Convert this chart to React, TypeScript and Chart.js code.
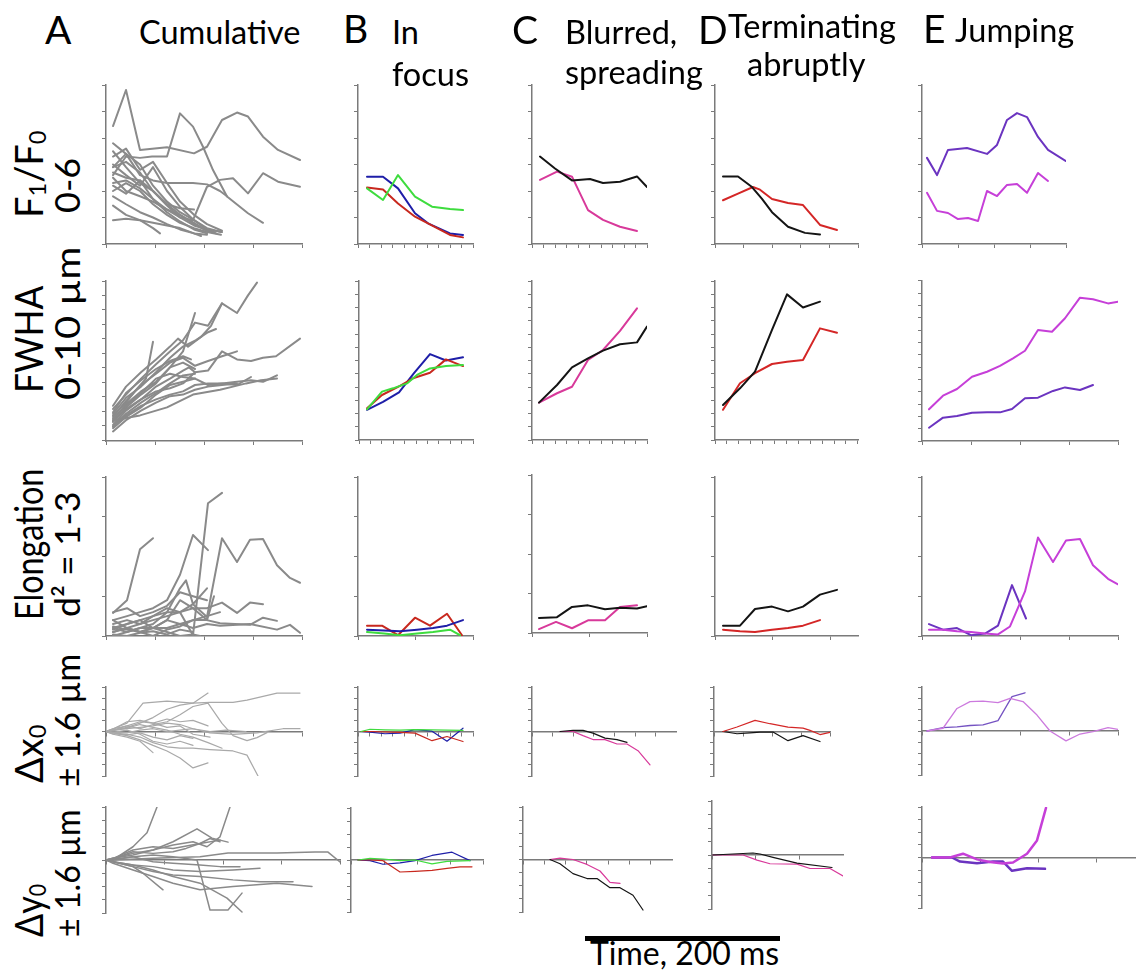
import React, { useEffect, useRef } from 'react';
import { Chart, registerables } from 'chart.js';
Chart.register(...registerables);

type Pt = [number, number]; // [time offset (ms), value]

// ---------- Column A : cumulative traces (gray) ----------
const A_F1F0: Pt[][] = [
  [[7,4.45],[20,5.81],[34,3.55],[61,3.65],[88,3.42],[101,3.67],[116,4.68],[131,4.96],[142,4.81],[157,4.05],[172,3.55],[194,3.17]],
  [[7,2.6],[20,3.3],[34,3.25],[46,3.3],[61,3.3],[74,4.93],[87,4.43],[97,3.67],[107,2.79],[121,1.79],[142,1.16],[157,0.8]],
  [[7,2.3],[20,2.4],[34,2.1],[47,1.7],[61,1.3],[74,1.0],[87,0.9],[101,2.16],[114,2.42],[127,2.48],[142,1.91],[157,2.67],[172,2.35],[194,2.16]],
  [[7,2.9],[20,3.4],[34,2.6],[47,2.4],[61,2.3],[74,2.3],[87,2.3],[101,2.25],[114,2.0],[121,1.8]],
  [[7,3.8],[20,3.4],[34,3.0],[47,2.2],[61,1.6],[74,1.2],[88,0.9],[101,0.6],[115,0.45]],
  [[7,3.3],[20,3.6],[34,2.8],[47,3.1],[61,2.3],[74,1.6],[88,1.1],[101,0.75],[116,0.5]],
  [[7,3.0],[20,2.6],[34,2.2],[47,2.9],[61,2.0],[74,1.4],[88,0.9],[101,0.55],[110,0.4]],
  [[7,2.7],[20,2.5],[34,2.4],[47,2.0],[61,1.5],[74,1.1],[88,0.75],[101,0.5]],
  [[7,2.5],[20,2.0],[34,1.8],[47,1.6],[61,1.3],[74,1.1],[88,0.8],[101,0.5],[108,0.45]],
  [[7,2.2],[20,1.9],[34,2.4],[47,1.7],[61,1.2],[74,0.85],[88,0.55],[101,0.4]],
  [[7,1.8],[20,1.5],[34,1.2],[47,1.0],[61,0.75],[74,0.55],[88,0.4],[95,0.3]],
  [[7,1.45],[20,1.1],[34,0.9],[47,0.6],[54,0.4]],
  [[7,0.9],[20,0.95],[34,0.9],[47,0.8],[61,0.7],[74,0.6],[88,0.4],[101,0.35]],
  [[7,3.5],[20,2.9],[34,2.3],[47,2.0],[61,1.5],[74,1.35],[88,1.3]],
  [[7,2.9],[20,3.1],[34,2.7],[47,2.0],[61,1.45],[74,1.0],[88,0.7],[101,0.55],[116,0.45]],
  [[7,2.0],[20,2.3],[34,2.0],[47,1.5],[61,1.1],[74,0.8],[88,0.6],[101,0.45],[115,0.35]],
];

const A_FWHA: Pt[][] = [
  [[7,2.0],[20,2.9],[35,3.9],[50,4.8],[64,5.6],[77,6.3],[89,7.4],[102,7.2],[116,8.6],[131,8.0],[142,9.1],[151,9.9]],
  [[7,1.2],[20,2.0],[35,2.6],[50,3.1],[64,3.3],[77,3.6],[89,4.3],[102,4.4],[116,5.6],[131,5.1],[145,5.0],[157,5.2],[170,5.3],[194,6.4]],
  [[7,0.9],[20,1.6],[35,2.2],[50,2.6],[64,2.9],[77,3.1],[89,3.5],[102,3.6],[116,3.6],[131,3.7],[145,3.8],[157,3.7],[171,4.1]],
  [[7,1.6],[20,2.4],[30,3.2],[40,3.9],[47,6.2]],
  [[7,1.3],[20,2.3],[35,3.1],[50,3.7],[64,4.6],[77,5.6],[89,8.0]],
  [[7,1.7],[20,2.7],[35,3.4],[50,4.3],[64,5.2],[77,5.9],[90,6.3],[102,6.8],[110,7.0]],
  [[7,1.0],[20,1.9],[35,2.6],[50,3.4],[64,3.9],[77,4.4],[83,4.6],[89,4.3]],
  [[7,0.9],[20,1.7],[35,2.4],[50,3.0],[64,3.6],[77,4.1],[89,4.2]],
  [[7,1.2],[20,2.1],[35,2.9],[50,3.6],[64,4.6],[77,4.9],[89,4.5]],
  [[7,0.6],[20,1.3],[35,1.9],[50,2.4],[64,2.8],[77,2.9],[89,3.2],[102,3.4],[116,3.5],[131,3.6]],
  [[7,1.3],[34,1.6],[61,2.1],[87,2.9],[114,3.2],[127,3.4],[140,3.6],[155,3.8],[171,3.9]],
  [[7,1.8],[20,3.0],[35,3.8],[50,4.5],[64,5.0],[77,5.3],[85,5.1]],
  [[7,1.4],[20,2.2],[35,3.0],[50,3.9],[64,4.2],[77,4.0],[89,3.9]],
  [[7,2.2],[20,3.4],[35,4.3],[50,5.1],[64,5.9],[72,6.4],[82,5.9],[95,6.5],[105,7.2],[116,8.6]],
  [[7,0.8],[20,1.5],[35,2.1],[50,2.9],[64,3.5],[77,3.7],[89,3.9],[102,3.5],[116,3.6],[131,3.5],[145,4.0]],
  [[7,1.5],[20,2.5],[35,3.5],[50,4.2],[64,4.9],[77,5.2],[89,4.7],[102,5.0],[116,5.3],[131,5.6]],
];

const A_ELONG: Pt[][] = [
  [[7,1.29],[21,1.45],[34,2.09],[47,2.23]],
  [[7,1.2],[21,1.25],[34,1.3],[47,1.35],[61,1.45],[74,1.77],[87,2.27],[102,2.08]],
  [[7,1.1],[21,1.15],[34,1.2],[47,1.25],[61,1.3],[74,1.3],[87,1.01],[102,2.67],[116,2.8]],
  [[7,1.05],[21,1.1],[34,1.15],[47,1.2],[61,1.25],[74,1.3],[87,1.4],[101,1.24],[116,2.23],[131,1.93],[144,2.21],[157,2.22],[171,1.89],[184,1.73],[194,1.67]],
  [[7,1.15],[21,1.2],[34,1.15],[47,1.25],[61,1.35],[74,1.3],[87,1.35],[101,1.35],[116,1.42],[131,1.29],[144,1.42],[157,1.4]],
  [[7,1.1],[21,1.05],[34,1.1],[47,1.1],[61,1.2],[74,1.15],[87,1.2],[101,1.2],[114,1.16],[144,1.14],[157,1.23],[171,1.19]],
  [[7,1.05],[21,1.1],[34,1.05],[47,1.1],[61,1.1],[74,1.15],[87,1.1],[101,1.15],[114,1.13],[144,1.15],[171,1.08],[184,1.14],[194,1.04]],
  [[7,1.0],[21,1.05],[34,1.1],[47,1.15],[61,1.3],[74,1.6],[80,1.7],[87,1.4],[101,1.6]],
  [[7,1.12],[21,1.08],[34,1.05],[47,1.1],[61,1.2],[74,1.45],[87,1.35],[101,1.2],[108,1.5]],
  [[7,1.08],[21,1.15],[34,1.2],[47,1.1],[61,1.05],[74,1.0],[87,1.02],[94,1.0]],
  [[7,1.2],[21,1.1],[34,1.05],[47,1.0],[61,1.08],[74,1.12],[87,1.2],[101,1.25],[114,1.3]],
  [[7,1.02],[21,1.0],[34,1.04],[47,1.06],[61,1.02],[74,1.08],[87,1.05]],
  [[7,1.3],[21,1.35],[34,1.25],[47,1.3],[61,1.38],[74,1.55],[87,1.5],[101,1.45]],
];

const A_DX: Pt[][] = [
  [[0,0],[7,0.1],[21,0.3],[37,1.02],[61,1.09],[87,1.02],[104,1.05],[127,1.05],[141,1.13],[171,1.38],[194,1.38]],
  [[0,0],[7,0.05],[21,0.15],[34,0.3],[47,0.5],[61,0.8],[74,0.95],[87,1.02],[102,1.38]],
  [[0,0],[7,0.05],[21,0.2],[34,0.1],[47,0.25],[61,0.35],[74,0.6],[87,0.9],[102,1.02],[116,0.29],[127,-0.15],[141,-0.33],[151,-0.22],[161,-0.04]],
  [[0,0],[7,-0.1],[21,-0.2],[34,-0.35],[47,-0.76]],
  [[0,0],[7,-0.05],[21,-0.15],[34,-0.3],[47,-0.5],[61,-0.7],[74,-0.95],[87,-1.31],[102,-1.13]],
  [[0,0],[7,-0.05],[21,-0.1],[34,-0.2],[47,-0.4],[61,-0.55],[74,-0.6],[87,-0.6],[104,-0.65],[127,-0.7],[141,-0.85],[152,-1.6]],
  [[0,0],[7,0.05],[21,0.1],[34,0.15],[47,0.2],[61,0.3],[74,0.25],[87,0.1],[104,-0.05],[127,-0.1],[151,-0.05],[177,0.1],[194,0.1]],
  [[0,0],[7,0.08],[21,0.35],[34,0.4],[47,0.3],[61,0.45],[74,0.35],[87,0.4],[102,0.2]],
  [[0,0],[7,-0.08],[21,-0.12],[34,-0.05],[47,-0.2],[61,-0.3],[74,-0.15],[87,-0.25]],
  [[0,0],[7,0.03],[21,0.12],[34,0.25],[47,0.15],[61,0.05],[74,-0.1],[87,-0.2],[102,-0.4],[116,-0.6]],
  [[0,0],[7,-0.02],[21,-0.05],[34,0.05],[47,0.1],[61,0.0],[74,0.05],[87,0.1],[104,0.0],[120,0.05],[140,0.0]],
  [[0,0],[7,0.1],[21,0.2],[34,0.35],[47,0.3],[61,0.15],[74,0.2],[87,-0.1],[104,-0.2]],
  [[0,0],[7,-0.03],[21,0.05],[34,-0.1],[47,-0.35],[61,-0.45],[74,-0.35],[87,-0.5]],
];

const A_DY: Pt[][] = [
  [[0,0],[7,0.0],[27,0.4],[41,0.82],[51,1.6]],
  [[0,0],[7,0.05],[27,0.2],[47,0.3],[67,0.45],[87,0.55],[101,0.4],[114,0.7],[124,1.6]],
  [[0,0],[7,0.05],[27,0.15],[47,0.3],[67,0.55],[91,0.94],[106,0.66],[122,0.54]],
  [[0,0],[7,0.0],[47,0.05],[94,0.1],[122,0.21],[171,0.21],[209,0.24],[222,0.24],[234,-0.06]],
  [[0,0],[7,-0.05],[27,-0.15],[47,-0.2],[67,-0.3],[94,-0.35],[127,-0.3],[154,-0.25]],
  [[0,0],[7,-0.05],[27,-0.2],[47,-0.35],[67,-0.45],[94,-0.5],[127,-0.6],[154,-0.66],[177,-0.66],[187,-0.66]],
  [[0,0],[7,-0.1],[27,-0.3],[47,-0.5],[67,-0.7],[94,-0.9],[127,-0.8],[171,-0.7],[206,-0.8]],
  [[0,0],[7,0.0],[27,0.1],[47,0.15],[67,0.1],[91,0.0],[104,-1.51],[122,-1.51],[136,-1.0]],
  [[0,0],[7,-0.05],[27,-0.15],[47,-0.3],[67,-0.5],[94,-0.7],[121,-1.15],[136,-1.57]],
  [[0,0],[7,-0.05],[27,-0.2],[37,-0.4],[57,-0.9]],
  [[0,0],[7,0.05],[27,0.3],[47,0.4],[67,0.35],[94,0.5],[114,0.6]],
  [[0,0],[7,0.02],[27,0.1],[47,-0.05],[67,-0.1],[94,-0.15],[114,-0.2],[134,-0.2]],
  [[0,0],[7,0.03],[27,0.25],[47,0.2],[67,0.25],[80,0.35],[94,0.5],[104,0.65],[114,0.55]],
];

// ---------- Column B : in focus ----------
const B_F1F0_blue: Pt[] = [[9,2.54],[25,2.54],[40,2.1],[57,1.16],[70,0.78],[92,0.4],[105,0.34]];
const B_F1F0_red: Pt[] = [[9,2.13],[25,2.06],[40,1.53],[57,1.03],[70,0.78],[92,0.34],[105,0.25]];
const B_F1F0_green: Pt[] = [[9,2.1],[25,1.66],[40,2.6],[57,1.79],[74,1.41],[92,1.32],[105,1.28]];
const B_FWHA_blue: Pt[] = [[8,1.9],[24,2.4],[40,3.0],[55,4.2],[71,5.4],[87,5.0],[104,5.2]];
const B_FWHA_green: Pt[] = [[8,1.93],[23,3.04],[34,3.25],[48,3.56],[58,4.09],[71,4.5],[87,4.65],[104,4.72]];
const B_FWHA_red: Pt[] = [[8,2.0],[23,2.83],[41,3.4],[54,3.88],[71,4.23],[87,5.07],[104,4.65]];
const B_ELONG_red: Pt[] = [[9,1.13],[24,1.13],[40,1.01],[57,1.23],[72,1.13],[89,1.28],[104,1.01]];
const B_ELONG_blue: Pt[] = [[9,1.08],[26,1.07],[42,1.06],[59,1.08],[75,1.1],[89,1.13],[105,1.2]];
const B_ELONG_green: Pt[] = [[9,1.05],[26,1.03],[42,1.01],[59,1.03],[75,1.05],[92,1.08],[102,1.01]];
const B_DX_red: Pt[] = [[3,0],[12,0],[42,-0.03],[57,-0.06],[74,-0.33],[89,-0.18],[105,-0.36]];
const B_DX_blue: Pt[] = [[3,0],[12,-0.02],[27,-0.08],[42,-0.06],[57,0.07],[74,0.01],[89,-0.35],[105,0.12]];
const B_DX_green: Pt[] = [[3,0],[12,0.08],[27,0.06],[42,0.05],[57,0.07],[74,0.06],[89,0.05],[105,0.04]];
const B_DY_red: Pt[] = [[7,0],[19,0],[32,-0.02],[49,-0.37],[64,-0.35],[81,-0.32],[96,-0.26],[109,-0.21],[121,-0.21]];
const B_DY_blue: Pt[] = [[7,0],[19,-0.02],[32,-0.13],[49,-0.09],[64,-0.02],[81,0.14],[101,0.24],[119,-0.02]];
const B_DY_green: Pt[] = [[7,0],[19,0.05],[32,0.03],[49,-0.02],[64,0],[81,-0.12],[96,-0.04],[119,-0.02]];

// ---------- Column C : blurred, spreading ----------
const C_F1F0_black: Pt[] = [[8,3.3],[23,2.85],[40,2.4],[58,2.45],[71,2.3],[88,2.35],[105,2.55],[115,2.15]];
const C_F1F0_pink: Pt[] = [[8,2.42],[25,2.73],[40,2.54],[56,1.28],[71,0.91],[88,0.65],[105,0.49]];
const C_FWHA_black: Pt[] = [[7,2.35],[25,3.46],[40,4.57],[56,5.14],[71,5.62],[88,6.02],[105,6.14],[115,7.13]];
const C_FWHA_pink: Pt[] = [[7,2.35],[25,2.94],[40,3.35],[56,5.03],[71,5.66],[88,6.86],[105,8.28]];
const C_ELONG_black: Pt[] = [[7,1.19],[25,1.2],[40,1.33],[56,1.35],[73,1.3],[88,1.32],[105,1.31],[115,1.34]];
const C_ELONG_pink: Pt[] = [[7,1.05],[24,1.14],[40,1.06],[56,1.16],[73,1.16],[88,1.33],[105,1.35]];
const C_DX_black: Pt[] = [[28,0],[41,0.04],[51,0.04],[61,-0.06],[73,-0.24],[85,-0.29],[95,-0.39]];
const C_DX_pink: Pt[] = [[28,0],[41,0],[51,-0.15],[61,-0.29],[73,-0.29],[85,-0.45],[95,-0.45],[106,-0.69],[118,-1.2]];
const C_DY_black: Pt[] = [[27,0],[37,-0.13],[50,-0.43],[64,-0.58],[74,-0.58],[87,-0.86],[97,-0.86],[110,-1.09],[120,-1.54]];
const C_DY_pink: Pt[] = [[27,0],[37,0.04],[50,0],[64,-0.15],[77,-0.35],[87,-0.7],[97,-0.73]];

// ---------- Column D : terminating abruptly ----------
const D_F1F0_black: Pt[] = [[8,2.55],[23,2.55],[37,2.15],[47,1.7],[57,1.2],[73,0.65],[90,0.42],[105,0.36]];
const D_F1F0_red: Pt[] = [[8,1.65],[23,1.9],[38,2.15],[45,2.05],[57,1.7],[73,1.55],[88,1.47],[105,0.72],[122,0.53]];
const D_FWHA_black: Pt[] = [[8,2.2],[25,3.25],[40,4.3],[57,6.92],[72,9.16],[88,8.33],[105,8.7]];
const D_FWHA_red: Pt[] = [[8,1.9],[25,3.57],[40,4.2],[57,4.78],[72,4.92],[88,5.03],[105,7.02],[122,6.75]];
const D_ELONG_black: Pt[] = [[8,1.13],[25,1.13],[40,1.34],[57,1.37],[73,1.31],[88,1.37],[105,1.52],[122,1.58]];
const D_ELONG_red: Pt[] = [[8,1.08],[25,1.06],[40,1.05],[57,1.08],[73,1.1],[88,1.13],[105,1.2]];
const D_DX_red: Pt[] = [[9,0],[23,0.16],[41,0.4],[56,0.28],[74,0.16],[89,0.12],[96,0.04],[106,-0.11],[116,-0.03]];
const D_DX_black: Pt[] = [[9,0],[23,-0.08],[36,-0.05],[46,-0.02],[59,-0.02],[74,-0.33],[89,-0.15],[106,-0.36]];
const D_DY_black: Pt[] = [[1,0],[41,0.06],[48,0.03],[61,-0.07],[85,-0.24],[120,-0.37]];
const D_DY_pink: Pt[] = [[1,0],[31,0],[45,-0.15],[58,-0.26],[85,-0.27],[98,-0.4],[118,-0.4],[131,-0.62]];

// ---------- Column E : jumping ----------
const E_F1F0_purple: Pt[] = [[5,3.25],[15,2.6],[26,3.55],[45,3.62],[65,3.4],[75,3.74],[85,4.68],[95,4.94],[105,4.79],[116,4.04],[126,3.55],[144,3.13]];
const E_F1F0_magenta: Pt[] = [[5,1.93],[15,1.25],[26,1.17],[36,0.94],[46,0.98],[56,0.87],[65,2.0],[75,1.81],[85,2.23],[95,2.26],[105,1.93],[116,2.68],[126,2.38]];
const E_FWHA_magenta: Pt[] = [[7,1.98],[21,2.83],[35,3.25],[50,4.02],[65,4.33],[78,4.69],[91,5.17],[103,5.64],[116,6.94],[130,6.83],[143,7.67],[158,8.96],[171,8.86],[186,8.6],[196,8.71]];
const E_FWHA_purple: Pt[] = [[7,0.83],[21,1.46],[35,1.56],[50,1.77],[65,1.79],[78,1.79],[90,2.0],[103,2.67],[116,2.71],[131,3.13],[143,3.35],[158,3.19],[171,3.5]];
const E_ELONG_magenta: Pt[] = [[7,1.08],[21,1.08],[35,1.06],[49,1.05],[63,1.03],[76,1.02],[88,1.12],[103,1.56],[116,2.24],[131,1.93],[144,2.2],[158,2.22],[171,1.89],[186,1.72],[196,1.65]];
const E_ELONG_purple: Pt[] = [[7,1.15],[21,1.08],[35,1.1],[49,1.01],[63,1.03],[76,1.13],[90,1.64],[104,1.22]];
const E_DX_magenta: Pt[] = [[5,0],[21,0.1],[35,0.82],[48,1.07],[61,1.09],[76,1.03],[88,1.19],[101,1.07],[115,0.58],[128,0],[144,-0.36],[158,-0.11],[171,-0.02],[186,0.12],[196,0.06]];
const E_DX_purple: Pt[] = [[5,0],[21,0.12],[35,0.15],[48,0.2],[61,0.22],[76,0.38],[90,1.25],[103,1.39]];
const E_DY_magenta: Pt[] = [[10,0],[28,0],[41,0.12],[55,-0.06],[68,-0.14],[81,-0.19],[91,-0.16],[105,0.12],[115,0.54],[124,1.57]];
const E_DY_purple: Pt[] = [[10,0],[30,0],[38,-0.13],[55,-0.18],[71,-0.13],[81,-0.13],[90,-0.42],[105,-0.34],[123,-0.36]];

// ---------- styles ----------
const AXIS = '#7a7a7a';
const GRAY = '#8a8a8a';
const GRAY_LIGHT = '#a9a9a9';
const BLUE = '#1e1ea8';
const GREEN = '#3edc3e';
const RED = '#c8281e';
const BLACK = '#141414';
const PINK = '#d8399a';
const DRED = '#d42626';
const PURPLE = '#6b34c0';
const MAGENTA = '#c63fd8';
const FONT = 'Lato, "Open Sans", sans-serif';
const PAD = 10;

interface Series { data: Pt[]; color: string; width: number; }
interface Panel {
  left: number; top: number; bottom: number; len: number;
  yMin: number; yMax: number; yStep: number; yFrom?: number;
  xStep: number; center?: boolean; series: Series[];
}

const gray = (list: Pt[][], color: string, width: number): Series[] => list.map((d) => ({ data: d, color, width }));
const S = (data: Pt[], color: string, width = 2): Series => ({ data, color, width });

const F = { yMin: 0, yMax: 6, yStep: 1 };
const W = { yMin: 0, yMax: 10, yStep: 10 / 12 };
const EL = { yMin: 1, yMax: 3, yStep: 0.5 };
const DD = { yMin: -1.6, yMax: 1.6, yStep: 0.4, center: true };

const PANELS: Panel[] = [
  // row 1 : F1/F0
  { left: 106, top: 85, bottom: 244, len: 196, xStep: 49, ...F, series: gray(A_F1F0, GRAY, 2) },
  { left: 358, top: 85, bottom: 244, len: 115, xStep: 11.5, ...F, series: [S(B_F1F0_green, GREEN), S(B_F1F0_red, RED), S(B_F1F0_blue, BLUE)] },
  { left: 532, top: 85, bottom: 244, len: 115, xStep: 11.5, ...F, series: [S(C_F1F0_black, BLACK), S(C_F1F0_pink, PINK)] },
  { left: 715, top: 85, bottom: 244, len: 143, xStep: 28.6, ...F, series: [S(D_F1F0_black, BLACK), S(D_F1F0_red, DRED)] },
  { left: 922, top: 85, bottom: 244, len: 144, xStep: 36, ...F, series: [S(E_F1F0_purple, PURPLE), S(E_F1F0_magenta, MAGENTA)] },
  // row 2 : FWHA
  { left: 106, top: 281, bottom: 441, len: 196, xStep: 49, ...W, yStep: 0.906, yFrom: 0.034, series: gray(A_FWHA, GRAY, 2) },
  { left: 359, top: 281, bottom: 440, len: 114, xStep: 11.4, ...W, series: [S(B_FWHA_green, GREEN), S(B_FWHA_red, RED), S(B_FWHA_blue, BLUE)] },
  { left: 532, top: 281, bottom: 440, len: 115, xStep: 11.5, ...W, series: [S(C_FWHA_black, BLACK), S(C_FWHA_pink, PINK)] },
  { left: 715, top: 281, bottom: 440, len: 143, xStep: 11.9, ...W, series: [S(D_FWHA_black, BLACK), S(D_FWHA_red, DRED)] },
  { left: 922, top: 281, bottom: 441, len: 196, xStep: 49, ...W, yStep: 10 / 13, series: [S(E_FWHA_magenta, MAGENTA), S(E_FWHA_purple, PURPLE)] },
  // row 3 : elongation
  { left: 106, top: 477, bottom: 636, len: 196, xStep: 49, ...EL, series: gray(A_ELONG, GRAY, 2) },
  { left: 358, top: 477, bottom: 636, len: 115, xStep: 57.5, ...EL, series: [S(B_ELONG_green, GREEN), S(B_ELONG_blue, BLUE), S(B_ELONG_red, RED)] },
  { left: 532, top: 475, bottom: 633, len: 115, xStep: 57.5, ...EL, series: [S(C_ELONG_black, BLACK), S(C_ELONG_pink, PINK)] },
  { left: 715, top: 477, bottom: 636, len: 143, xStep: 57.5, ...EL, series: [S(D_ELONG_black, BLACK), S(D_ELONG_red, DRED)] },
  { left: 922, top: 477, bottom: 636, len: 196, xStep: 49, ...EL, series: [S(E_ELONG_magenta, MAGENTA), S(E_ELONG_purple, PURPLE)] },
  // row 4 : delta x0
  { left: 106, top: 687, bottom: 776, len: 196, xStep: 49, ...DD, series: gray(A_DX, GRAY_LIGHT, 1.2) },
  { left: 358, top: 687, bottom: 776, len: 115, xStep: 11.5, ...DD, series: [S(B_DX_green, GREEN, 1.2), S(B_DX_red, RED, 1.2), S(B_DX_blue, BLUE, 1.2)] },
  { left: 532, top: 687, bottom: 776, len: 144, xStep: 20.6, ...DD, series: [S(C_DX_black, BLACK, 1.2), S(C_DX_pink, PINK, 1.2)] },
  { left: 714, top: 687, bottom: 776, len: 116, xStep: 29, ...DD, series: [S(D_DX_red, DRED, 1.2), S(D_DX_black, BLACK, 1.2)] },
  { left: 922, top: 687, bottom: 775, len: 196, xStep: 49, ...DD, series: [S(E_DX_magenta, '#cc7ade', 1.3), S(E_DX_purple, '#7553c2', 1.3)] },
  // row 5 : delta y0
  { left: 106, top: 807, bottom: 913, len: 234, xStep: 58.5, ...DD, series: gray(A_DY, GRAY, 1.5) },
  { left: 351, top: 808, bottom: 912, len: 132, xStep: 33, ...DD, series: [S(B_DY_green, GREEN, 1.2), S(B_DY_red, RED, 1.2), S(B_DY_blue, BLUE, 1.2)] },
  { left: 523, top: 807, bottom: 912, len: 149, xStep: 21.3, ...DD, series: [S(C_DY_black, BLACK, 1.2), S(C_DY_pink, PINK, 1.2)] },
  { left: 712, top: 801, bottom: 909, len: 131, xStep: 43.7, ...DD, series: [S(D_DY_black, BLACK, 1.2), S(D_DY_pink, PINK, 1.2)] },
  { left: 922, top: 807, bottom: 908, len: 230, xStep: 58, ...DD, series: [S(E_DY_magenta, MAGENTA, 2.5), S(E_DY_purple, PURPLE, 2.5)] },
];

const ticksFrom = (from: number, max: number, step: number) => (scale: any) => {
  const t: { value: number }[] = [];
  for (let v = from; v <= max + 1e-6; v += step) t.push({ value: v });
  scale.ticks = t;
};

function PanelChart({ p }: { p: Panel }) {
  const ref = useRef<HTMLCanvasElement>(null);
  useEffect(() => {
    const grid = { drawOnChartArea: false, drawTicks: true, tickLength: 4, color: AXIS, lineWidth: 1 };
    const border = { display: true, color: AXIS, width: 1.5 };
    const chart = new Chart(ref.current as HTMLCanvasElement, {
      type: 'line',
      data: {
        datasets: p.series.map((s) => ({
          data: s.data.map(([x, y]) => ({ x, y })),
          borderColor: s.color,
          borderWidth: s.width,
          pointRadius: 0,
          fill: false,
          tension: 0,
          borderJoinStyle: 'round',
          borderCapStyle: 'round',
        })),
      },
      options: {
        animation: false,
        responsive: false,
        events: [],
        layout: { padding: { left: 0, top: PAD, right: PAD, bottom: p.center ? PAD : 0 } },
        plugins: { legend: { display: false }, tooltip: { enabled: false } },
        scales: {
          x: {
            type: 'linear', min: 0, max: p.len,
            position: p.center ? { y: 0 } : 'bottom',
            grid, border, ticks: { display: false },
            afterBuildTicks: ticksFrom(0, p.len, p.xStep),
            afterFit: (s: any) => { s.height = PAD; },
          },
          y: {
            type: 'linear', min: p.yMin, max: p.yMax, position: 'left',
            grid, border, ticks: { display: false },
            afterBuildTicks: ticksFrom(p.yFrom ?? p.yMin, p.yMax, p.yStep),
            afterFit: (s: any) => { s.width = PAD; },
          },
        },
      } as any,
    });
    return () => chart.destroy();
  }, [p]);
  return (
    <canvas
      ref={ref}
      width={p.len + 2 * PAD}
      height={p.bottom - p.top + 2 * PAD}
      style={{ position: 'absolute', left: p.left - PAD, top: p.top - PAD }}
    />
  );
}

// text anchored at baseline-start (x, y); rotated labels read bottom-to-top
function Txt({ x, y, size, rot, sx = 1, children }: { x: number; y: number; size: number; rot?: boolean; sx?: number; children: React.ReactNode }) {
  const base = 0.887 * size;
  const common: React.CSSProperties = {
    position: 'absolute', fontFamily: FONT, fontSize: size, lineHeight: size + 'px',
    whiteSpace: 'nowrap', color: '#000', transformOrigin: '0 0',
  };
  if (rot) {
    return <div style={{ ...common, left: x - base, top: y, transform: `rotate(-90deg) scaleX(${sx})` }}>{children}</div>;
  }
  return <div style={{ ...common, left: x, top: y - base, transform: `scaleX(${sx})` }}>{children}</div>;
}

const sub: React.CSSProperties = { fontSize: '0.62em', verticalAlign: '-0.12em', lineHeight: 0 };

export default function App() {
  return (
    <div style={{ position: 'fixed', left: 0, top: 0, width: 1136, height: 970, overflow: 'hidden', background: '#fff' }}>
      {PANELS.map((p, i) => <PanelChart key={i} p={p} />)}

      <Txt x={45} y={45} size={39}>A</Txt>
      <Txt x={139} y={45} size={32.5}>Cumulative</Txt>
      <Txt x={343} y={44} size={39}>B</Txt>
      <Txt x={392} y={45} size={32.5}>In</Txt>
      <Txt x={392} y={87} size={32.5}>focus</Txt>
      <Txt x={512} y={45} size={39}>C</Txt>
      <Txt x={565} y={45} size={32.5}>Blurred,</Txt>
      <Txt x={565} y={85} size={32.5}>spreading</Txt>
      <Txt x={698} y={45} size={39}>D</Txt>
      <Txt x={728} y={39} size={32.5}>Terminating</Txt>
      <Txt x={747} y={77} size={32.5}>abruptly</Txt>
      <Txt x={923} y={44} size={39}>E</Txt>
      <Txt x={955} y={43} size={32.5}>Jumping</Txt>

      <Txt rot x={43} y={218} size={38}>F<span style={sub}>1</span>/F<span style={sub}>0</span></Txt>
      <Txt rot x={80} y={213} size={35} sx={1.03}>0-6</Txt>
      <Txt rot x={43} y={393} size={38} sx={0.93}>FWHA</Txt>
      <Txt rot x={80} y={400} size={35} sx={1.14}>0-10 µm</Txt>
      <Txt rot x={43} y={620} size={38} sx={0.85}>Elongation</Txt>
      <Txt rot x={80} y={617} size={35} sx={1.02}>d² = 1-3</Txt>
      <Txt rot x={43} y={783} size={38}>Δx<span style={sub}>0</span></Txt>
      <Txt rot x={80} y={787} size={35} sx={0.96}>± 1.6 µm</Txt>
      <Txt rot x={43} y={937} size={38} sx={0.9}>Δy<span style={sub}>0</span></Txt>
      <Txt rot x={80} y={937} size={35} sx={0.92}>± 1.6 µm</Txt>

      <div style={{ position: 'absolute', left: 585, top: 936, width: 195, height: 5, background: '#000' }} />
      <Txt x={590} y={965} size={32}>Time, 200 ms</Txt>
    </div>
  );
}
